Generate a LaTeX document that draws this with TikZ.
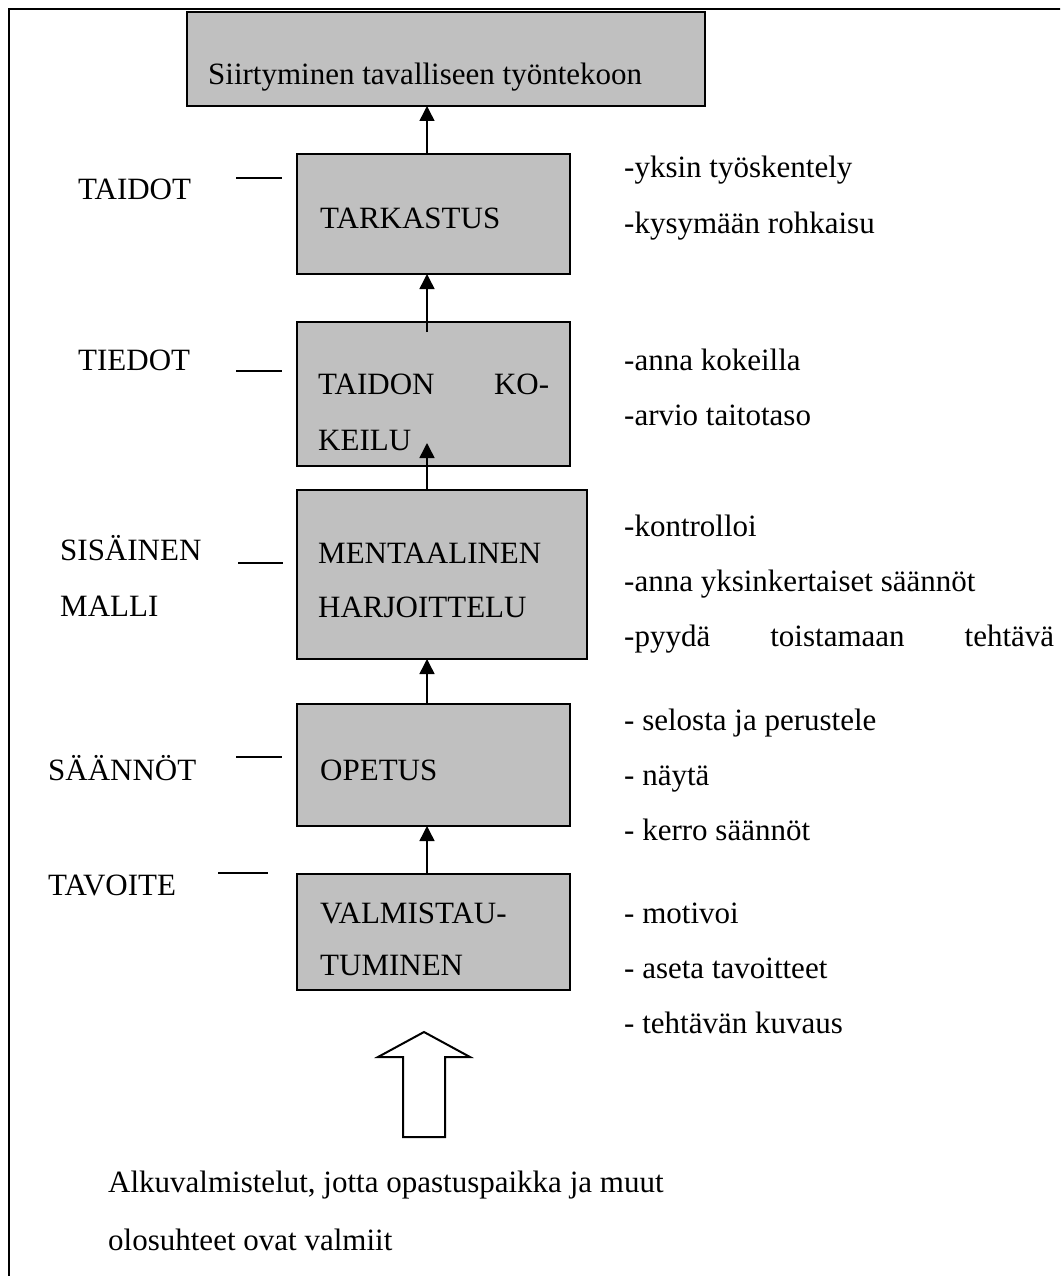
\documentclass[tikz,border=0pt]{standalone}
\usepackage{fontspec}
\setmainfont{Liberation Serif}
\usetikzlibrary{arrows.meta}
\definecolor{boxgray}{RGB}{192,192,192}
\begin{document}
\begin{tikzpicture}[x=1pt,y=-1pt,
  box/.style={draw=black, line width=2pt, fill=boxgray, rectangle, inner sep=0pt, outer sep=0pt, anchor=north west},
  txt/.style={anchor=base west, inner sep=0pt, font=\fontsize{31}{36}\selectfont},
  conn/.style={line width=1.5pt, -{Triangle[width=15pt,length=15pt]}},
  tick/.style={line width=2pt},
  frame/.style={line width=2.5pt}
]
\useasboundingbox (0,0) rectangle (1060,1276);
\clip (0,0) rectangle (1060,1276);
\fill[white] (0,0) rectangle (1060,1276);
% outer frame (extends beyond right and bottom)
\draw[frame] (9,1300) -- (9,9) -- (1080,9);

\coordinate (ax) at (427,0);

% boxes
\node[box, minimum width=518pt, minimum height=94pt] (top) at (187,12) {};
\node[box, minimum width=273pt, minimum height=120pt] (tark) at (297,154) {};
\node[box, minimum width=273pt, minimum height=144pt] (taid) at (297,322) {};
\node[box, minimum width=290pt, minimum height=169pt] (ment) at (297,490) {};
\node[box, minimum width=273pt, minimum height=122pt] (opet) at (297,704) {};
\node[box, minimum width=273pt, minimum height=116pt] (valm) at (297,874) {};

% box texts
\node[txt] (ttop) at (208,85) {Siirtyminen tavalliseen työntekoon};
\node[txt] (ttark) at (320,228) {TARKASTUS};
\node[txt] (ttaid1) at (318,394) {\makebox[231pt][s]{TAIDON\hfill KO-}};
\node[txt] (ttaid2) at (318,450) {KEILU};
\node[txt] (tment1) at (318,563) {MENTAALINEN};
\node[txt] (tment2) at (318,617) {HARJOITTELU};
\node[txt] (topet) at (320,780) {OPETUS};
\node[txt] (tvalm1) at (320,923) {VALMISTAU-};
\node[txt] (tvalm2) at (320,975) {TUMINEN};

% connectors
\draw[conn] (tark.north -| ax) -- (top.south -| ax);
\draw[conn] ([yshift=-10pt]taid.north -| ax) -- (tark.south -| ax);
\draw[conn] (ment.north -| ax) -- ([yshift=23pt]taid.south -| ax);
\draw[conn] (opet.north -| ax) -- (ment.south -| ax);
\draw[conn] (valm.north -| ax) -- (opet.south -| ax);

% left labels
\node[txt] (ltaidot) at (78,200) {TAIDOT};
\node[txt] (ltiedot) at (78,370) {TIEDOT};
\node[txt] (lsis1) at (60,560) {SISÄINEN};
\node[txt] (lsis2) at (60,616) {MALLI};
\node[txt] (lsaan) at (48,780) {SÄÄNNÖT};
\node[txt] (ltav) at (48,895) {TAVOITE};

\draw[tick] (236,178) -- (282,178);
\draw[tick] (236,371) -- (282,371);
\draw[tick] (238,563) -- (283,563);
\draw[tick] (236,757) -- (282,757);
\draw[tick] (218,873) -- (268,873);

% right notes
\node[txt] (r1a) at (624,178) {-yksin työskentely};
\node[txt] (r1b) at (624,233) {-kysymään rohkaisu};
\node[txt] (r2a) at (624,370) {-anna kokeilla};
\node[txt] (r2b) at (624,425) {-arvio taitotaso};
\node[txt] (r3a) at (624,536) {-kontrolloi};
\node[txt] (r3b) at (624,591) {-anna yksinkertaiset säännöt};
\node[txt] (r3c) at (624,646) {\makebox[430pt][s]{-pyydä\hfill toistamaan\hfill tehtävä}};
\node[txt] (r4a) at (624,730) {- selosta ja perustele};
\node[txt] (r4b) at (624,785) {- näytä};
\node[txt] (r4c) at (624,840) {- kerro säännöt};
\node[txt] (r5a) at (624,923) {- motivoi};
\node[txt] (r5b) at (624,978) {- aseta tavoitteet};
\node[txt] (r5c) at (624,1033) {- tehtävän kuvaus};

% big open arrow
\draw[line width=2pt, fill=white, line join=miter] (403,1137) -- (403,1057) -- (378,1057) -- (424,1032) -- (470,1057) -- (445,1057) -- (445,1137) -- cycle;

% bottom text
\node[txt] (b1) at (108,1192) {Alkuvalmistelut, jotta opastuspaikka ja muut};
\node[txt] (b2) at (108,1250) {olosuhteet ovat valmiit};
\end{tikzpicture}
\end{document}
